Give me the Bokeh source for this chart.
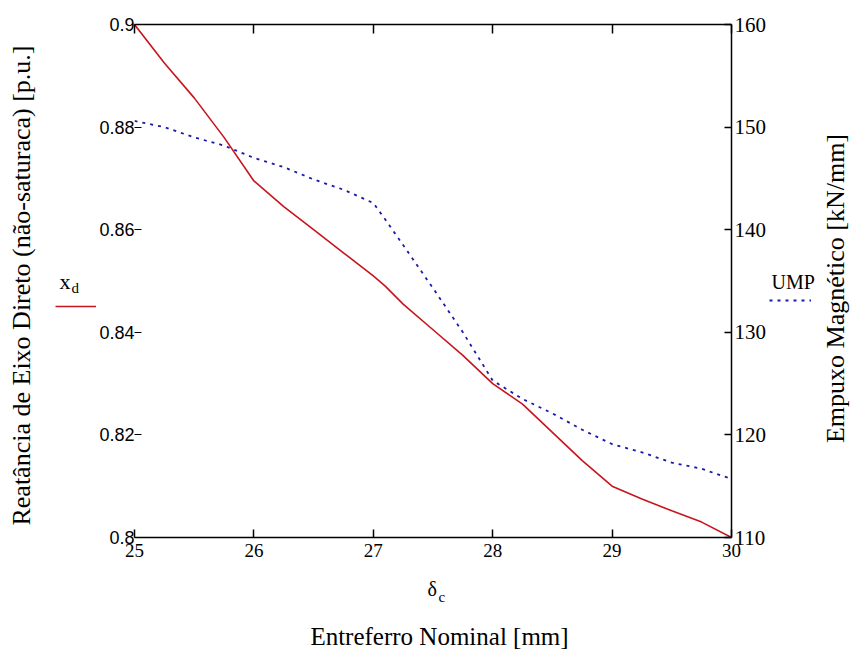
import math
from bokeh.plotting import figure
from bokeh.layouts import row, column
from bokeh.models import Range1d, LinearAxis, FixedTicker, Legend, LegendItem, Label
from bokeh.embed import file_html
from bokeh.resources import INLINE

# ---- data ----
gap_mm = [25.0, 25.25, 25.5, 25.75, 26.0, 26.25, 26.5, 26.75, 27.0, 27.1, 27.25,
          27.5, 27.75, 28.0, 28.25, 28.5, 28.75, 29.0, 29.25, 29.5, 29.75, 30.0]
xd_pu = [0.900, 0.8925, 0.8857, 0.878, 0.8695, 0.8645, 0.860, 0.8555, 0.851, 0.849, 0.8455,
         0.8405, 0.8355, 0.830, 0.826, 0.8205, 0.815, 0.810, 0.8075, 0.8052, 0.803, 0.800]
ump_kn = [150.6, 150.0, 149.0, 148.2, 147.0, 146.1, 144.9, 143.9, 142.6, 141.0, 138.5,
          134.3, 130.0, 125.3, 123.5, 122.1, 120.5, 119.1, 118.3, 117.3, 116.7, 115.7]

x_ticks = [25, 26, 27, 28, 29, 30]
x_tick_labels = ["25", "26", "27", "28", "29", "30"]
left_ticks = [0.8, 0.82, 0.84, 0.86, 0.88, 0.9]
left_tick_labels = ["0.8", "0.82", "0.84", "0.86", "0.88", "0.9"]
right_ticks = [110, 120, 130, 140, 150, 160]
right_tick_labels = ["110", "120", "130", "140", "150", "160"]

SERIF = "Liberation Serif"
SANS = "Liberation Sans"
RED = "#c8141e"
BLUE = "#1a1aa8"
TOTAL_H = 650
MAIN_H = 567
LEFT_W = 96
RIGHT_W = 81
MAIN_W = 673
FRAME_LEFT = 135  # page x of the plot frame's left edge

# ---------------- main plot ----------------
p = figure(frame_width=597, frame_height=513,
           x_range=Range1d(25, 30), y_range=Range1d(0.8, 0.9),
           output_backend="svg", toolbar_location=None,
           min_border_left=37, min_border_right=37,
           min_border_top=24, min_border_bottom=MAIN_H - 24 - 513)
p.extra_y_ranges = {"ump": Range1d(110, 160)}
p.grid.visible = False
p.outline_line_color = None
p.background_fill_color = "white"
p.border_fill_color = "white"

xa = p.xaxis[0]
xa.ticker = FixedTicker(ticks=x_ticks)
xa.major_label_overrides = {t: s for t, s in zip(x_ticks, x_tick_labels)}
xa.major_tick_in = 8
xa.major_tick_out = 0
xa.minor_tick_line_color = None
xa.axis_line_width = 1.5
xa.major_tick_line_width = 1.5
xa.major_label_standoff = 6
xa.major_label_text_font = SERIF
xa.major_label_text_font_size = "19px"
xa.major_label_text_color = "black"

ya = p.yaxis[0]
ya.ticker = FixedTicker(ticks=left_ticks)
ya.major_label_overrides = {t: s for t, s in zip(left_ticks, left_tick_labels)}
ya.axis_line_color = None
ya.major_tick_in = 7
ya.major_tick_out = 0
ya.major_tick_line_width = 1.2
ya.minor_tick_line_color = None
ya.major_label_standoff = 0
ya.major_label_text_font = SANS
ya.major_label_text_font_size = "18px"
ya.major_label_text_color = "black"

ra = LinearAxis(y_range_name="ump", ticker=FixedTicker(ticks=right_ticks))
ra.major_label_overrides = {t: s for t, s in zip(right_ticks, right_tick_labels)}
ra.major_tick_in = 7
ra.major_tick_out = 0
ra.minor_tick_line_color = None
ra.axis_line_width = 1.5
ra.major_tick_line_width = 1.5
ra.major_label_standoff = 3
ra.major_label_text_font = SERIF
ra.major_label_text_font_size = "21px"
ra.major_label_text_color = "black"
p.add_layout(ra, "right")

ta = LinearAxis(ticker=FixedTicker(ticks=x_ticks))
ta.major_label_overrides = {t: "" for t in x_ticks}
ta.major_tick_in = 9
ta.major_tick_out = 0
ta.minor_tick_line_color = None
ta.axis_line_width = 1.5
ta.major_tick_line_width = 1.5
ta.major_label_standoff = 0
p.add_layout(ta, "above")

p.line(gap_mm, xd_pu, line_color=RED, line_width=1.6)
p.line(gap_mm, ump_kn, y_range_name="ump", line_color=BLUE, line_width=1.8, line_dash="3 5")


# ---------------- side panels (text + legend samples) ----------------
def panel(w, h):
    f = figure(width=w, height=h, x_range=Range1d(0, 1), y_range=Range1d(0, 1),
               output_backend="svg", toolbar_location=None,
               x_axis_location=None, y_axis_location=None,
               min_border=0, min_border_left=0, min_border_right=0,
               min_border_top=0, min_border_bottom=0)
    f.grid.visible = False
    f.outline_line_color = None
    f.background_fill_color = "white"
    f.border_fill_color = "white"
    return f


def text(f, h, x, y_page, s, size, align="left", angle=0.0):
    # y_page: vertical centre of the text, measured from the top of the panel
    f.add_layout(Label(x=x, y=h - y_page, x_units="screen", y_units="screen", text=s,
                       text_font=SERIF, text_font_size=size, text_color="black",
                       text_align=align, text_baseline="middle", angle=angle))


def sample_legend(f, renderer, x, y):
    f.add_layout(Legend(items=[LegendItem(label=" ", renderers=[renderer])],
                        location=(x, y), padding=0, margin=0, spacing=0,
                        glyph_width=42, glyph_height=10, label_width=0,
                        label_standoff=0, label_text_font_size="8px",
                        border_line_color=None, background_fill_alpha=0))


# left: axis title + x_d legend (the series is re-used here only for its legend sample;
# it lies outside this panel's 0..1 ranges, so only the sample is visible)
pl = panel(LEFT_W, TOTAL_H)
text(pl, TOTAL_H, 21, 285, "Reatância de Eixo Direto (não-saturaca) [p.u.]", "26px",
     align="center", angle=math.pi / 2)
text(pl, TOTAL_H, 59, 281, "x", "22px")
text(pl, TOTAL_H, 71, 287, "d", "15px")
s_xd = pl.line(gap_mm, xd_pu, line_color=RED, line_width=1.6)
sample_legend(pl, s_xd, 55, TOTAL_H - 311)

# right: UMP legend + axis title
pr = panel(RIGHT_W, TOTAL_H)
text(pr, TOTAL_H, 2, 281, "UMP", "20px")
s_ump = pr.line(gap_mm, ump_kn, line_color=BLUE, line_width=1.8, line_dash="3 5")
sample_legend(pr, s_ump, 0, TOTAL_H - 305)
text(pr, TOTAL_H, 835 - (LEFT_W + MAIN_W), 288, "Empuxo Magnético [kN/mm]", "26px",
     align="center", angle=math.pi / 2)

# bottom: delta_c + x title (this panel's frame is aligned with the main frame)
BOT_H = TOTAL_H - MAIN_H
pb = panel(671, BOT_H)
text(pb, BOT_H, 428 - FRAME_LEFT, 588 - MAIN_H, "δ", "20px")
text(pb, BOT_H, 439 - FRAME_LEFT, 596 - MAIN_H, "c", "15px")
text(pb, BOT_H, 440 - FRAME_LEFT, 636 - MAIN_H, "Entreferro Nominal [mm]", "25px",
     align="center")

layout = row(pl, column(p, pb), pr)
open("out.html", "w").write(file_html(layout, INLINE))
